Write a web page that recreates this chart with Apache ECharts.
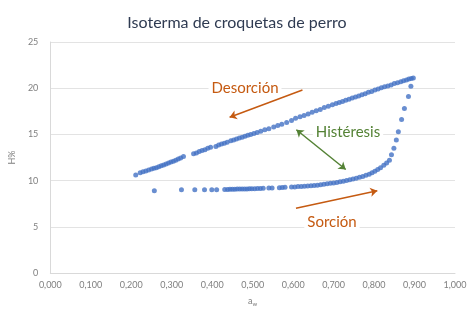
<!DOCTYPE html>
<html><head><meta charset="utf-8">
<script src="https://cdn.jsdelivr.net/npm/echarts@6/dist/echarts.min.js"></script>
<style>html,body{margin:0;padding:0;background:#fff}#c{width:474px;height:316px}</style>
</head><body><div id="c"></div>
<script>
var titleText = 'Isoterma de croquetas de perro';
var xTicks = ['0,000','0,100','0,200','0,300','0,400','0,500','0,600','0,700','0,800','0,900','1,000'];
var yTicks = [0,5,10,15,20,25];

// Desorción (upper branch)
var desX = [.211,.222,.229,.236,.243,.250,.256,.262,.268,.274,.280,.286,.292,.298,.304,.310,.316,.322,.329,
  .354,.361,.368,.375,.382,.389,.396,.409,.416,.423,.430,.437,.446,.453,.460,.467,.474,.481,.488,.495,.503,.511,
  .520,.530,.540,.552,.562,.572,.584,.596,.606,.617,.627,.637,.647,.657,.667,.677,.687,.697,.706,.714,.722,.730,
  .738,.746,.754,.762,.770,.778,.786,.794,.802,.810,.818,.826,.834,.842,.850,.858,.866,.873,.880,.886,.892,.897];
var desY = [10.6,10.85,10.95,11.05,11.15,11.25,11.35,11.4,11.5,11.6,11.7,11.8,11.9,12.0,12.1,12.2,12.35,12.45,12.6,
  12.9,13.0,13.15,13.25,13.35,13.5,13.6,13.7,13.85,13.95,14.05,14.15,14.3,14.4,14.5,14.6,14.7,14.8,14.9,15.0,15.1,15.2,
  15.35,15.5,15.6,15.8,15.95,16.1,16.3,16.5,16.75,16.9,17.05,17.2,17.4,17.55,17.7,17.9,18.05,18.2,18.35,18.45,18.55,18.7,
  18.8,18.95,19.05,19.15,19.3,19.4,19.55,19.65,19.8,19.9,20.05,20.15,20.25,20.35,20.5,20.6,20.7,20.8,20.9,21.0,21.05,21.1];

// Sorción (lower branch)
var sorX = [.257,.324,.357,.381,.399,.411,.431,.438,.444,.450,.456,.462,.468,.474,.480,.486,.492,.498,.505,.512,.519,.526,
  .540,.548,.566,.573,.580,.596,.604,.612,.620,.628,.636,.644,.652,.660,.668,.676,.684,.692,.700,.708,.716,.724,.732,
  .740,.748,.756,.764,.772,.780,.788,.795,.802,.809,.816,.824,.831,.838,.843,.849,.855,.860,.868,.875,.885,.891];
var sorY = [8.9,9.0,9.0,9.0,9.0,9.0,9.05,9.05,9.06,9.07,9.07,9.08,9.08,9.1,9.1,9.1,9.12,9.12,9.13,9.15,9.15,9.17,
  9.2,9.2,9.23,9.25,9.27,9.3,9.32,9.35,9.37,9.4,9.42,9.45,9.48,9.5,9.55,9.6,9.65,9.7,9.75,9.8,9.87,9.93,10.0,
  10.08,10.16,10.25,10.35,10.45,10.57,10.7,10.85,11.0,11.2,11.4,11.65,11.9,12.2,12.8,13.5,14.4,15.3,16.6,17.8,19.1,20.2];

var annotations = [
  {text:'Desorción', x:245, y:88, color:'#C55A11'},
  {text:'Histéresis', x:348, y:132, color:'#548235'},
  {text:'Sorción', x:332, y:222, color:'#C55A11'}
];
var arrows = [
  {from:[.623,19.8], to:[.443,16.85], color:'#C55A11', both:false},
  {from:[.608,15.5], to:[.730,11.2], color:'#548235', both:true},
  {from:[.607,7.0], to:[.808,8.9], color:'#C55A11', both:false}
];

function zip(a,b){return a.map(function(v,i){return [v,b[i]];});}

var chart = echarts.init(document.getElementById('c'));
var font = 'Lato';
chart.setOption({
  animation:false,
  title:{text:titleText,left:'center',top:10,textStyle:{fontFamily:font,fontSize:16,fontWeight:'normal',color:'#2f3b52'}},
  grid:{left:43,right:19,top:42,bottom:43},
  xAxis:{type:'value',min:0,max:1,interval:0.1,
    name:'a{s|w}',nameLocation:'middle',nameGap:22,
    nameTextStyle:{fontFamily:font,fontSize:9,color:'#7f7f7f',rich:{s:{fontSize:6,verticalAlign:'bottom',padding:[6,0,0,0],color:'#7f7f7f'}}},
    axisLine:{lineStyle:{color:'#d9d9d9'}},axisTick:{show:false},splitLine:{show:false},
    axisLabel:{fontFamily:font,fontSize:9,color:'#7f7f7f',margin:8,formatter:function(v){return xTicks[Math.round(v*10)];}}},
  yAxis:{type:'value',min:yTicks[0],max:yTicks[yTicks.length-1],interval:5,
    name:'H%',nameLocation:'middle',nameGap:22,nameRotate:90,
    nameTextStyle:{fontFamily:font,fontSize:9,color:'#7f7f7f'},
    axisLine:{show:true,lineStyle:{color:'#d9d9d9'}},axisTick:{show:false},
    splitLine:{lineStyle:{color:'#e3e3e3'}},
    axisLabel:{fontFamily:font,fontSize:9,color:'#7f7f7f',margin:12}},
  graphic:annotations.map(function(a){
    return {type:'text',z:100,x:a.x,y:a.y,style:{text:a.text,fill:a.color,font:'15px '+font,align:'center',verticalAlign:'middle',backgroundColor:'#fff',padding:[1,3,1,3]}};
  }),
  series:[
    {type:'scatter',data:zip(desX,desY),symbolSize:5,itemStyle:{color:'#4472C4'}},
    {type:'scatter',data:zip(sorX,sorY),symbolSize:5,itemStyle:{color:'#4472C4'},
     markLine:{silent:true,animation:false,label:{show:false},
       data:arrows.map(function(a){return [{coord:a.from,symbol:a.both?'arrow':'none',lineStyle:{color:a.color,width:1.5,type:'solid'}},{coord:a.to,symbol:'arrow'}];}),
       symbolSize:7,lineStyle:{width:1.5,type:'solid'}}}
  ]
});
</script></body></html>
